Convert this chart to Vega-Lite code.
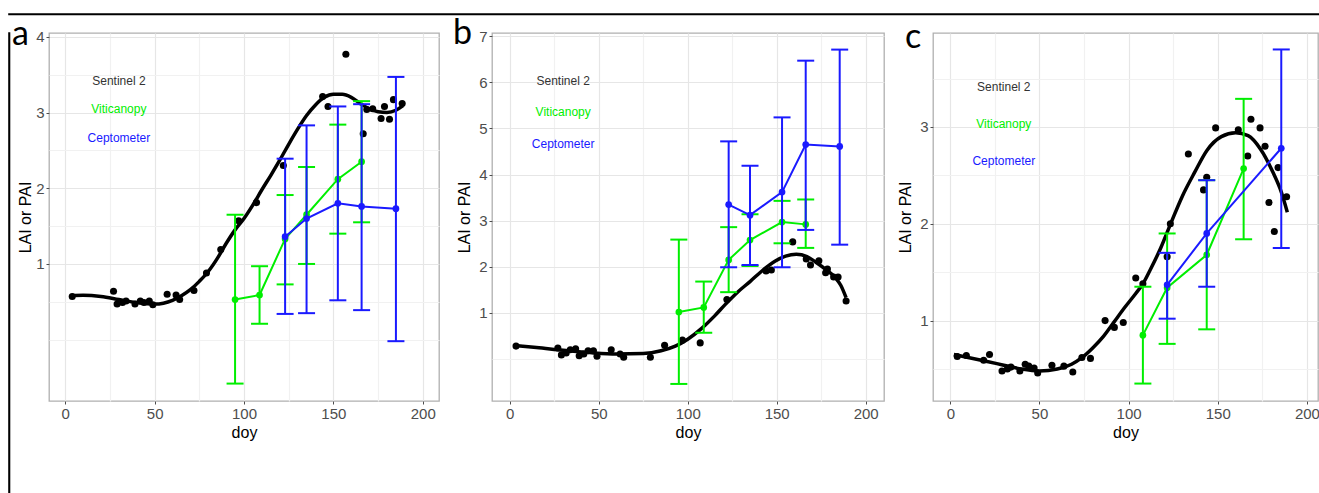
{
  "$schema": "https://vega.github.io/schema/vega-lite/v6.json",
  "padding": {"left": 8, "top": 13, "right": 0, "bottom": 0},
  "background": "white",
  "spacing": 0,
  "config": {
    "view": {"stroke": "#b0b0b0", "strokeWidth": 1.3},
    "font": "Liberation Sans",
    "axis": {
      "domain": false,
      "labelFont": "Liberation Sans",
      "labelFontSize": 15,
      "labelColor": "#4d4d4d",
      "titleFont": "Liberation Sans",
      "titleFontSize": 16,
      "titleFontWeight": "normal",
      "titleColor": "#000000",
      "tickColor": "#4d4d4d",
      "tickSize": 3,
      "tickWidth": 1,
      "labelPadding": 2,
      "labelFlush": false,
      "labelOverlap": false,
      "gridWidth": 1.2
    },
    "axisX": {"titlePadding": 3}
  },
  "datasets": {
    "a_pts": [
      {"doy":3.9,"v":0.57},{"doy":27,"v":0.64},{"doy":29,"v":0.47},{"doy":32,"v":0.49},{"doy":34,"v":0.51},{"doy":39,"v":0.47},{"doy":42,"v":0.51},{"doy":44,"v":0.49},{"doy":47,"v":0.51},{"doy":49,"v":0.46},{"doy":57,"v":0.60},{"doy":62,"v":0.59},{"doy":64,"v":0.53},{"doy":72,"v":0.65},{"doy":79,"v":0.88},{"doy":87,"v":1.19},{"doy":97,"v":1.57},{"doy":107,"v":1.81},{"doy":122,"v":2.30},{"doy":144,"v":3.21},{"doy":147,"v":3.08},{"doy":157,"v":3.77},{"doy":166.7,"v":2.72},{"doy":168.7,"v":3.04},{"doy":172,"v":3.05},{"doy":176.7,"v":2.92},{"doy":178.6,"v":3.08},{"doy":181.4,"v":2.91},{"doy":183.6,"v":3.17},{"doy":188.5,"v":3.12}
    ],
    "a_fit": [
      {"doy":3,"v":0.58},{"doy":10,"v":0.585},{"doy":20,"v":0.57},{"doy":30,"v":0.53},{"doy":40,"v":0.49},{"doy":50,"v":0.47},{"doy":60,"v":0.52},{"doy":65,"v":0.58},{"doy":70,"v":0.66},{"doy":75,"v":0.77},{"doy":80,"v":0.9},{"doy":85,"v":1.07},{"doy":90,"v":1.27},{"doy":95,"v":1.45},{"doy":100,"v":1.6},{"doy":105,"v":1.78},{"doy":110,"v":1.98},{"doy":115,"v":2.17},{"doy":120,"v":2.37},{"doy":125,"v":2.58},{"doy":130,"v":2.78},{"doy":135,"v":2.96},{"doy":140,"v":3.1},{"doy":145,"v":3.2},{"doy":150,"v":3.24},{"doy":155,"v":3.24},{"doy":160,"v":3.2},{"doy":165,"v":3.12},{"doy":170,"v":3.05},{"doy":175,"v":3.01},{"doy":180,"v":3.0},{"doy":185,"v":3.03},{"doy":189,"v":3.09}
    ],
    "a_vit": [
      {"doy":95,"v":0.53,"lo":-0.58,"hi":1.65},{"doy":108.7,"v":0.59,"lo":0.21,"hi":0.97},{"doy":123,"v":1.33,"lo":0.73,"hi":1.91},{"doy":135,"v":1.65,"lo":1.0,"hi":2.28},{"doy":152.5,"v":2.12,"lo":1.4,"hi":2.84},{"doy":165.8,"v":2.35,"lo":1.55,"hi":3.15}
    ],
    "a_cep": [
      {"doy":123,"v":1.36,"lo":0.34,"hi":2.39},{"doy":135,"v":1.6,"lo":0.35,"hi":2.83},{"doy":152.5,"v":1.8,"lo":0.52,"hi":3.08},{"doy":165.8,"v":1.76,"lo":0.39,"hi":3.11},{"doy":185,"v":1.73,"lo":-0.02,"hi":3.47}
    ],
    "a_lab": [
      {"doy":30,"v":3.42,"label":"Sentinel 2"},{"doy":30,"v":3.04,"label":"Viticanopy"},{"doy":30,"v":2.66,"label":"Ceptometer"}
    ],
    "b_pts": [
      {"doy":3.5,"v":0.28},{"doy":27,"v":0.24},{"doy":29,"v":0.09},{"doy":31.7,"v":0.13},{"doy":34,"v":0.2},{"doy":37,"v":0.22},{"doy":39,"v":0.07},{"doy":41.6,"v":0.11},{"doy":44,"v":0.18},{"doy":47,"v":0.18},{"doy":49,"v":0.06},{"doy":57,"v":0.2},{"doy":62,"v":0.11},{"doy":64,"v":0.04},{"doy":79,"v":0.04},{"doy":87,"v":0.3},{"doy":97,"v":0.41},{"doy":107,"v":0.35},{"doy":122,"v":1.29},{"doy":144,"v":1.91},{"doy":147,"v":1.93},{"doy":159,"v":2.54},{"doy":166.6,"v":2.17},{"doy":169,"v":2.04},{"doy":173.7,"v":2.13},{"doy":177.5,"v":1.87},{"doy":178.5,"v":1.95},{"doy":182,"v":1.78},{"doy":184.5,"v":1.78},{"doy":189,"v":1.26}
    ],
    "b_fit": [
      {"doy":3,"v":0.29},{"doy":15,"v":0.25},{"doy":30,"v":0.19},{"doy":45,"v":0.14},{"doy":60,"v":0.11},{"doy":75,"v":0.12},{"doy":85,"v":0.18},{"doy":93,"v":0.28},{"doy":100,"v":0.43},{"doy":108,"v":0.67},{"doy":115,"v":0.93},{"doy":121,"v":1.18},{"doy":128,"v":1.45},{"doy":135,"v":1.68},{"doy":142,"v":1.92},{"doy":149,"v":2.12},{"doy":155,"v":2.23},{"doy":161,"v":2.27},{"doy":167,"v":2.22},{"doy":172,"v":2.1},{"doy":178,"v":1.93},{"doy":183,"v":1.76},{"doy":186,"v":1.6},{"doy":189,"v":1.33}
    ],
    "b_vit": [
      {"doy":95,"v":1.02,"lo":-0.54,"hi":2.59},{"doy":109,"v":1.12,"lo":0.57,"hi":1.68},{"doy":123,"v":2.15,"lo":1.45,"hi":2.86},{"doy":135,"v":2.58,"lo":2.02,"hi":3.14},{"doy":153,"v":2.97,"lo":2.51,"hi":3.43},{"doy":166.3,"v":2.92,"lo":2.41,"hi":3.46}
    ],
    "b_cep": [
      {"doy":123,"v":3.35,"lo":1.99,"hi":4.72},{"doy":135,"v":3.12,"lo":2.04,"hi":4.19},{"doy":153,"v":3.62,"lo":1.99,"hi":5.24},{"doy":166.3,"v":4.65,"lo":2.8,"hi":6.47},{"doy":185.4,"v":4.61,"lo":2.48,"hi":6.71}
    ],
    "b_lab": [
      {"doy":30,"v":6.02,"label":"Sentinel 2"},{"doy":30,"v":5.35,"label":"Viticanopy"},{"doy":30,"v":4.67,"label":"Ceptometer"}
    ],
    "c_pts": [
      {"doy":3.9,"v":0.63},{"doy":9,"v":0.64},{"doy":18.7,"v":0.59},{"doy":22,"v":0.65},{"doy":29,"v":0.48},{"doy":32,"v":0.5},{"doy":34,"v":0.52},{"doy":39,"v":0.48},{"doy":42,"v":0.55},{"doy":44,"v":0.53},{"doy":47,"v":0.51},{"doy":49,"v":0.46},{"doy":57,"v":0.54},{"doy":63.7,"v":0.53},{"doy":68.7,"v":0.47},{"doy":73.8,"v":0.62},{"doy":78.6,"v":0.61},{"doy":86.8,"v":1.0},{"doy":92,"v":0.93},{"doy":97,"v":0.98},{"doy":104,"v":1.44},{"doy":108,"v":1.38},{"doy":121.6,"v":1.66},{"doy":123.4,"v":2.0},{"doy":133.5,"v":2.72},{"doy":142,"v":2.35},{"doy":143.8,"v":2.48},{"doy":148.8,"v":2.99},{"doy":161.5,"v":2.97},{"doy":166.8,"v":2.7},{"doy":168.6,"v":3.08},{"doy":173.7,"v":2.99},{"doy":176.5,"v":2.8},{"doy":178.7,"v":2.22},{"doy":181.7,"v":1.92},{"doy":183.8,"v":2.58},{"doy":188.6,"v":2.28}
    ],
    "c_fit": [
      {"doy":2,"v":0.65},{"doy":10,"v":0.62},{"doy":20,"v":0.58},{"doy":30,"v":0.54},{"doy":40,"v":0.5},{"doy":50,"v":0.48},{"doy":60,"v":0.5},{"doy":68,"v":0.55},{"doy":74,"v":0.62},{"doy":80,"v":0.72},{"doy":86,"v":0.84},{"doy":92,"v":0.99},{"doy":98,"v":1.14},{"doy":104,"v":1.28},{"doy":108,"v":1.38},{"doy":112,"v":1.52},{"doy":118,"v":1.75},{"doy":124,"v":2.02},{"doy":130,"v":2.28},{"doy":137,"v":2.53},{"doy":144,"v":2.76},{"doy":152,"v":2.9},{"doy":160,"v":2.94},{"doy":167,"v":2.91},{"doy":174,"v":2.77},{"doy":181,"v":2.53},{"doy":185,"v":2.36},{"doy":189,"v":2.12}
    ],
    "c_vit": [
      {"doy":108,"v":0.85,"lo":0.35,"hi":1.35},{"doy":121.6,"v":1.34,"lo":0.76,"hi":1.9},{"doy":143.8,"v":1.68,"lo":0.91,"hi":2.45},{"doy":164.5,"v":2.57,"lo":1.84,"hi":3.29}
    ],
    "c_cep": [
      {"doy":121.6,"v":1.37,"lo":1.02,"hi":1.7},{"doy":143.8,"v":1.9,"lo":1.35,"hi":2.45},{"doy":185.6,"v":2.78,"lo":1.75,"hi":3.8}
    ],
    "c_lab": [
      {"doy":30,"v":3.41,"label":"Sentinel 2"},{"doy":30,"v":3.03,"label":"Viticanopy"},{"doy":30,"v":2.65,"label":"Ceptometer"}
    ]
  },
  "vconcat": [
    {
      "data": {"values": []},
      "mark": "point",
      "width": 1310,
      "height": 0.5,
      "view": {"stroke": "black", "strokeWidth": 1.6, "fill": "black"}
    },
    {
      "spacing": 0,
      "align": "none",
      "hconcat": [
        {
          "data": {"values": []},
          "mark": "point",
          "width": 0.5,
          "height": 474,
          "view": {"stroke": "black", "strokeWidth": 1.6, "fill": "black"}
        },
        {
          "spacing": 12,
          "hconcat": [
            {
              "width": 390,
              "height": 368,
              "title": {"text": "a", "anchor": "start", "frame": "group", "baseline": "alphabetic", "offset": -14, "dx": -37, "dy": 35, "fontSize": 34, "font": "Lato", "fontWeight": "normal", "color": "black"},
              "layer": [
                {"data": {"name": "a_pts"}, "mark": {"type": "circle", "color": "black", "opacity": 1, "size": 50},
                 "encoding": {
                   "x": {"field": "doy", "type": "quantitative", "scale": {"domain": [-9.1, 209.1], "nice": false, "zero": false},
                         "axis": {"title": "doy", "values": [0,25,50,75,100,125,150,175,200], "labelExpr": "datum.value % 50 === 0 ? '' + datum.value : ''",
                                  "gridColor": {"condition": {"test": "datum.value % 50 === 0", "value": "#e6e6e6"}, "value": "#f1f1f1"},
                                  "tickOpacity": {"condition": {"test": "datum.value % 50 === 0", "value": 1}, "value": 0}}},
                   "y": {"field": "v", "type": "quantitative", "scale": {"domain": [-0.81, 4.05], "nice": false, "zero": false},
                         "axis": {"title": "LAI or PAI", "titlePadding": 2, "values": [0,0.5,1,1.5,2,2.5,3,3.5,4], "labelExpr": "datum.value >= 1 && datum.value % 1 === 0 ? '' + datum.value : ''",
                                  "gridColor": {"condition": {"test": "datum.value >= 1 && datum.value % 1 === 0", "value": "#e6e6e6"}, "value": "#f1f1f1"},
                                  "tickOpacity": {"condition": {"test": "datum.value >= 1 && datum.value % 1 === 0", "value": 1}, "value": 0}}}
                 }},
                {"data": {"name": "a_fit"}, "mark": {"type": "line", "color": "black", "strokeWidth": 3.5, "interpolate": "monotone"},
                 "encoding": {"x": {"field": "doy", "type": "quantitative"}, "y": {"field": "v", "type": "quantitative"}}},
                {"data": {"name": "a_vit"}, "mark": {"type": "rule", "color": "#00ee00", "strokeWidth": 2},
                 "encoding": {"x": {"field": "doy", "type": "quantitative"}, "y": {"field": "lo", "type": "quantitative"}, "y2": {"field": "hi"}}},
                {"data": {"name": "a_vit"}, "mark": {"type": "tick", "orient": "horizontal", "color": "#00ee00", "size": 17, "thickness": 2, "opacity": 1},
                 "encoding": {"x": {"field": "doy", "type": "quantitative"}, "y": {"field": "lo", "type": "quantitative"}}},
                {"data": {"name": "a_vit"}, "mark": {"type": "tick", "orient": "horizontal", "color": "#00ee00", "size": 17, "thickness": 2, "opacity": 1},
                 "encoding": {"x": {"field": "doy", "type": "quantitative"}, "y": {"field": "hi", "type": "quantitative"}}},
                {"data": {"name": "a_vit"}, "mark": {"type": "line", "color": "#00ee00", "strokeWidth": 2, "point": {"filled": true, "size": 45, "color": "#00ee00", "opacity": 1}},
                 "encoding": {"x": {"field": "doy", "type": "quantitative"}, "y": {"field": "v", "type": "quantitative"}}},
                {"data": {"name": "a_cep"}, "mark": {"type": "rule", "color": "#1a1aff", "strokeWidth": 2},
                 "encoding": {"x": {"field": "doy", "type": "quantitative"}, "y": {"field": "lo", "type": "quantitative"}, "y2": {"field": "hi"}}},
                {"data": {"name": "a_cep"}, "mark": {"type": "tick", "orient": "horizontal", "color": "#1a1aff", "size": 17, "thickness": 2, "opacity": 1},
                 "encoding": {"x": {"field": "doy", "type": "quantitative"}, "y": {"field": "lo", "type": "quantitative"}}},
                {"data": {"name": "a_cep"}, "mark": {"type": "tick", "orient": "horizontal", "color": "#1a1aff", "size": 17, "thickness": 2, "opacity": 1},
                 "encoding": {"x": {"field": "doy", "type": "quantitative"}, "y": {"field": "hi", "type": "quantitative"}}},
                {"data": {"name": "a_cep"}, "mark": {"type": "line", "color": "#1a1aff", "strokeWidth": 2, "point": {"filled": true, "size": 45, "color": "#1a1aff", "opacity": 1}},
                 "encoding": {"x": {"field": "doy", "type": "quantitative"}, "y": {"field": "v", "type": "quantitative"}}},
                {"data": {"name": "a_lab"}, "mark": {"type": "text", "fontSize": 12, "font": "Liberation Sans", "baseline": "middle", "align": "center"},
                 "encoding": {"x": {"field": "doy", "type": "quantitative"}, "y": {"field": "v", "type": "quantitative"}, "text": {"field": "label"},
                              "color": {"field": "label", "type": "nominal", "scale": {"domain": ["Sentinel 2", "Viticanopy", "Ceptometer"], "range": ["#333333", "#00ee00", "#1a1aff"]}, "legend": null}}}
              ]
            },
            {
              "width": 392,
              "height": 368,
              "title": {"text": "b", "anchor": "start", "frame": "group", "baseline": "alphabetic", "offset": -14, "dx": -39, "dy": 35, "fontSize": 34, "font": "Lato", "fontWeight": "normal", "color": "black"},
              "layer": [
                {"data": {"name": "b_pts"}, "mark": {"type": "circle", "color": "black", "opacity": 1, "size": 50},
                 "encoding": {
                   "x": {"field": "doy", "type": "quantitative", "scale": {"domain": [-10, 210.3], "nice": false, "zero": false},
                         "axis": {"title": "doy", "values": [0,25,50,75,100,125,150,175,200], "labelExpr": "datum.value % 50 === 0 ? '' + datum.value : ''",
                                  "gridColor": {"condition": {"test": "datum.value % 50 === 0", "value": "#e6e6e6"}, "value": "#f1f1f1"},
                                  "tickOpacity": {"condition": {"test": "datum.value % 50 === 0", "value": 1}, "value": 0}}},
                   "y": {"field": "v", "type": "quantitative", "scale": {"domain": [-0.91, 7.07], "nice": false, "zero": false},
                         "axis": {"title": "LAI or PAI", "titlePadding": 6, "values": [0,0.5,1,1.5,2,2.5,3,3.5,4,4.5,5,5.5,6,6.5,7], "labelExpr": "datum.value >= 1 && datum.value % 1 === 0 ? '' + datum.value : ''",
                                  "gridColor": {"condition": {"test": "datum.value >= 1 && datum.value % 1 === 0", "value": "#e6e6e6"}, "value": "#f1f1f1"},
                                  "tickOpacity": {"condition": {"test": "datum.value >= 1 && datum.value % 1 === 0", "value": 1}, "value": 0}}}
                 }},
                {"data": {"name": "b_fit"}, "mark": {"type": "line", "color": "black", "strokeWidth": 3.5, "interpolate": "monotone"},
                 "encoding": {"x": {"field": "doy", "type": "quantitative"}, "y": {"field": "v", "type": "quantitative"}}},
                {"data": {"name": "b_vit"}, "mark": {"type": "rule", "color": "#00ee00", "strokeWidth": 2},
                 "encoding": {"x": {"field": "doy", "type": "quantitative"}, "y": {"field": "lo", "type": "quantitative"}, "y2": {"field": "hi"}}},
                {"data": {"name": "b_vit"}, "mark": {"type": "tick", "orient": "horizontal", "color": "#00ee00", "size": 17, "thickness": 2, "opacity": 1},
                 "encoding": {"x": {"field": "doy", "type": "quantitative"}, "y": {"field": "lo", "type": "quantitative"}}},
                {"data": {"name": "b_vit"}, "mark": {"type": "tick", "orient": "horizontal", "color": "#00ee00", "size": 17, "thickness": 2, "opacity": 1},
                 "encoding": {"x": {"field": "doy", "type": "quantitative"}, "y": {"field": "hi", "type": "quantitative"}}},
                {"data": {"name": "b_vit"}, "mark": {"type": "line", "color": "#00ee00", "strokeWidth": 2, "point": {"filled": true, "size": 45, "color": "#00ee00", "opacity": 1}},
                 "encoding": {"x": {"field": "doy", "type": "quantitative"}, "y": {"field": "v", "type": "quantitative"}}},
                {"data": {"name": "b_cep"}, "mark": {"type": "rule", "color": "#1a1aff", "strokeWidth": 2},
                 "encoding": {"x": {"field": "doy", "type": "quantitative"}, "y": {"field": "lo", "type": "quantitative"}, "y2": {"field": "hi"}}},
                {"data": {"name": "b_cep"}, "mark": {"type": "tick", "orient": "horizontal", "color": "#1a1aff", "size": 17, "thickness": 2, "opacity": 1},
                 "encoding": {"x": {"field": "doy", "type": "quantitative"}, "y": {"field": "lo", "type": "quantitative"}}},
                {"data": {"name": "b_cep"}, "mark": {"type": "tick", "orient": "horizontal", "color": "#1a1aff", "size": 17, "thickness": 2, "opacity": 1},
                 "encoding": {"x": {"field": "doy", "type": "quantitative"}, "y": {"field": "hi", "type": "quantitative"}}},
                {"data": {"name": "b_cep"}, "mark": {"type": "line", "color": "#1a1aff", "strokeWidth": 2, "point": {"filled": true, "size": 45, "color": "#1a1aff", "opacity": 1}},
                 "encoding": {"x": {"field": "doy", "type": "quantitative"}, "y": {"field": "v", "type": "quantitative"}}},
                {"data": {"name": "b_lab"}, "mark": {"type": "text", "fontSize": 12, "font": "Liberation Sans", "baseline": "middle", "align": "center"},
                 "encoding": {"x": {"field": "doy", "type": "quantitative"}, "y": {"field": "v", "type": "quantitative"}, "text": {"field": "label"},
                              "color": {"field": "label", "type": "nominal", "scale": {"domain": ["Sentinel 2", "Viticanopy", "Ceptometer"], "range": ["#333333", "#00ee00", "#1a1aff"]}, "legend": null}}}
              ]
            },
            {
              "width": 385,
              "height": 368,
              "title": {"text": "c", "anchor": "start", "frame": "group", "baseline": "alphabetic", "offset": -14, "dx": -28, "dy": 35, "fontSize": 34, "font": "Lato", "fontWeight": "normal", "color": "black"},
              "layer": [
                {"data": {"name": "c_pts"}, "mark": {"type": "circle", "color": "black", "opacity": 1, "size": 50},
                 "encoding": {
                   "x": {"field": "doy", "type": "quantitative", "scale": {"domain": [-9.7, 206.2], "nice": false, "zero": false},
                         "axis": {"title": "doy", "values": [0,25,50,75,100,125,150,175,200], "labelExpr": "datum.value % 50 === 0 ? '' + datum.value : ''",
                                  "gridColor": {"condition": {"test": "datum.value % 50 === 0", "value": "#e6e6e6"}, "value": "#f1f1f1"},
                                  "tickOpacity": {"condition": {"test": "datum.value % 50 === 0", "value": 1}, "value": 0}}},
                   "y": {"field": "v", "type": "quantitative", "scale": {"domain": [0.17, 3.97], "nice": false, "zero": false},
                         "axis": {"title": "LAI or PAI", "titlePadding": 6, "values": [0.5,1,1.5,2,2.5,3,3.5], "labelExpr": "datum.value >= 1 && datum.value % 1 === 0 ? '' + datum.value : ''",
                                  "gridColor": {"condition": {"test": "datum.value >= 1 && datum.value % 1 === 0", "value": "#e6e6e6"}, "value": "#f1f1f1"},
                                  "tickOpacity": {"condition": {"test": "datum.value >= 1 && datum.value % 1 === 0", "value": 1}, "value": 0}}}
                 }},
                {"data": {"name": "c_fit"}, "mark": {"type": "line", "color": "black", "strokeWidth": 3.5, "interpolate": "monotone"},
                 "encoding": {"x": {"field": "doy", "type": "quantitative"}, "y": {"field": "v", "type": "quantitative"}}},
                {"data": {"name": "c_vit"}, "mark": {"type": "rule", "color": "#00ee00", "strokeWidth": 2},
                 "encoding": {"x": {"field": "doy", "type": "quantitative"}, "y": {"field": "lo", "type": "quantitative"}, "y2": {"field": "hi"}}},
                {"data": {"name": "c_vit"}, "mark": {"type": "tick", "orient": "horizontal", "color": "#00ee00", "size": 17, "thickness": 2, "opacity": 1},
                 "encoding": {"x": {"field": "doy", "type": "quantitative"}, "y": {"field": "lo", "type": "quantitative"}}},
                {"data": {"name": "c_vit"}, "mark": {"type": "tick", "orient": "horizontal", "color": "#00ee00", "size": 17, "thickness": 2, "opacity": 1},
                 "encoding": {"x": {"field": "doy", "type": "quantitative"}, "y": {"field": "hi", "type": "quantitative"}}},
                {"data": {"name": "c_vit"}, "mark": {"type": "line", "color": "#00ee00", "strokeWidth": 2, "point": {"filled": true, "size": 45, "color": "#00ee00", "opacity": 1}},
                 "encoding": {"x": {"field": "doy", "type": "quantitative"}, "y": {"field": "v", "type": "quantitative"}}},
                {"data": {"name": "c_cep"}, "mark": {"type": "rule", "color": "#1a1aff", "strokeWidth": 2},
                 "encoding": {"x": {"field": "doy", "type": "quantitative"}, "y": {"field": "lo", "type": "quantitative"}, "y2": {"field": "hi"}}},
                {"data": {"name": "c_cep"}, "mark": {"type": "tick", "orient": "horizontal", "color": "#1a1aff", "size": 17, "thickness": 2, "opacity": 1},
                 "encoding": {"x": {"field": "doy", "type": "quantitative"}, "y": {"field": "lo", "type": "quantitative"}}},
                {"data": {"name": "c_cep"}, "mark": {"type": "tick", "orient": "horizontal", "color": "#1a1aff", "size": 17, "thickness": 2, "opacity": 1},
                 "encoding": {"x": {"field": "doy", "type": "quantitative"}, "y": {"field": "hi", "type": "quantitative"}}},
                {"data": {"name": "c_cep"}, "mark": {"type": "line", "color": "#1a1aff", "strokeWidth": 2, "point": {"filled": true, "size": 45, "color": "#1a1aff", "opacity": 1}},
                 "encoding": {"x": {"field": "doy", "type": "quantitative"}, "y": {"field": "v", "type": "quantitative"}}},
                {"data": {"name": "c_lab"}, "mark": {"type": "text", "fontSize": 12, "font": "Liberation Sans", "baseline": "middle", "align": "center"},
                 "encoding": {"x": {"field": "doy", "type": "quantitative"}, "y": {"field": "v", "type": "quantitative"}, "text": {"field": "label"},
                              "color": {"field": "label", "type": "nominal", "scale": {"domain": ["Sentinel 2", "Viticanopy", "Ceptometer"], "range": ["#333333", "#00ee00", "#1a1aff"]}, "legend": null}}}
              ]
            }
          ]
        }
      ]
    }
  ]
}
